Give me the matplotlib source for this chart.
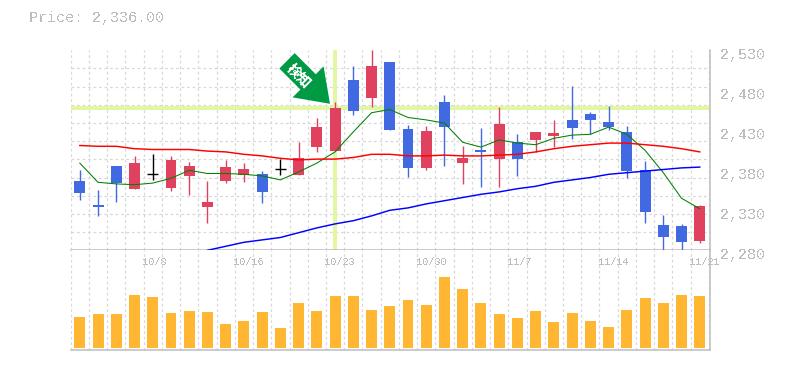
import matplotlib
matplotlib.use("Agg")
import matplotlib.pyplot as plt
import numpy as np
from matplotlib.patches import FancyArrow
from matplotlib.transforms import ScaledTranslation

W = 785
H = 370
GRAY = '#bdbdbd'
GRID = '#d8d8d8'
UP = '#e0415f'
DOWN = '#4169e1'
MARK = '#e2f6a4'

price_text = "Price: 2,336.00"

opens = [2367, 2337, 2385, 2357, 2376, 2358, 2373, 2334, 2367, 2374, 2375, 2382,
         2374, 2409, 2404, 2493, 2470, 2515, 2432, 2383, 2465, 2389, 2405, 2394,
         2415, 2418, 2423, 2443, 2450, 2440, 2428, 2380, 2312, 2310, 2292]
highs = [2380, 2355, 2385, 2398, 2400, 2398, 2390, 2367, 2393, 2389, 2379, 2394,
         2415, 2445, 2465, 2510, 2530, 2515, 2437, 2435, 2474, 2410, 2433, 2459,
         2425, 2428, 2443, 2485, 2453, 2460, 2435, 2392, 2324, 2313, 2337]
lows = [2343, 2323, 2340, 2357, 2368, 2354, 2349, 2314, 2364, 2365, 2339, 2374,
        2374, 2403, 2404, 2449, 2459, 2430, 2372, 2380, 2385, 2363, 2359, 2359,
        2373, 2403, 2409, 2419, 2425, 2430, 2371, 2314, 2280, 2280, 2289]
closes = [2352, 2334, 2364, 2389, 2376, 2393, 2385, 2340, 2384, 2382, 2353, 2382,
          2395, 2434, 2458, 2454, 2510, 2430, 2383, 2429, 2434, 2396, 2403, 2438,
          2394, 2428, 2427, 2433, 2443, 2434, 2379, 2328, 2297, 2290, 2336]
volumes = [31, 34, 34, 53, 51, 35, 37, 36, 24, 27, 36, 20, 45, 37, 52, 52, 38, 42,
           48, 43, 71, 59, 45, 34, 30, 37, 26, 35, 27, 21, 38, 50, 45, 53, 52]

ma_short = [2389, 2365, 2363, 2362, 2364, 2370, 2380, 2376, 2376, 2375, 2373, 2368,
            2378, 2389, 2403, 2428, 2452, 2456, 2446, 2443, 2439, 2415, 2409, 2418,
            2414, 2412, 2420, 2424, 2425, 2434, 2425, 2405, 2377, 2345, 2332]
ma_mid = [2411, 2410, 2410, 2407, 2406, 2406, 2406, 2404, 2403, 2400, 2398, 2395,
          2393, 2394, 2394, 2396, 2400, 2400, 2398, 2398, 2399, 2398, 2398, 2399,
          2400, 2403, 2407, 2410, 2412, 2414, 2414, 2412, 2410, 2407, 2403]
ma_long = [None, None, None, None, None, None, None, 2280, 2285, 2290, 2293, 2296,
           2302, 2308, 2313, 2317, 2323, 2330, 2333, 2338, 2342, 2346, 2350, 2353,
           2357, 2360, 2365, 2368, 2371, 2375, 2377, 2379, 2381, 2383, 2384]

date_ticks = [4, 9, 14, 19, 24, 29, 34]
date_labels = ['10/8', '10/16', '10/23', '10/30', '11/7', '11/14', '11/21']
price_ticks = [2280, 2330, 2380, 2430, 2480, 2530]
price_labels = ['2,280', '2,330', '2,380', '2,430', '2,480', '2,530']
mark_index = 14
mark_price = 2458


def px_axes(left, top, right, bottom):
    return fig.add_axes([left / W, 1 - bottom / H, (right - left) / W, (bottom - top) / H])


def shift(label, dx, dy):
    label.set_transform(label.get_transform() + ScaledTranslation(dx / 100, dy / 100, fig.dpi_scale_trans))


def style_axes(ax):
    ax.set_xlim(-0.51, 34.56)
    ax.set_xticks(np.arange(0, 36) - 0.5, minor=True)
    ax.grid(True, which='minor', axis='x', color=GRID, lw=0.9, ls=(0, (2.2, 2.2)))
    ax.set_axisbelow(True)
    ax.tick_params(which='both', length=0)
    ax.spines['top'].set_visible(False)
    ax.spines['left'].set_visible(False)
    ax.spines['bottom'].set_color(GRAY)
    ax.spines['right'].set_color(GRAY)
    ax.spines['bottom'].set_linewidth(1.1)
    ax.spines['right'].set_linewidth(1.1)


plt.rcParams['font.family'] = ['Liberation Mono', 'DejaVu Sans Mono']
plt.rcParams['text.antialiased'] = False

fig = plt.figure(figsize=(W / 100, H / 100), dpi=100)

ax = px_axes(70.5, 50.3, 710, 250.3)
vol = px_axes(70.5, 250.3, 710, 350.3)
style_axes(ax)
style_axes(vol)

# price panel
ax.set_ylim(2280, 2530)
ax.set_yticks(np.linspace(2280, 2530, 12), minor=True)
ax.grid(True, which='minor', axis='y', color=GRID, lw=0.9, ls=(0, (2.2, 2.2)))
ax.yaxis.tick_right()
ax.set_yticks(price_ticks, price_labels)
ax.tick_params(axis='y', which='major', labelsize=10.8, labelcolor=GRAY, pad=7)
for lab in ax.get_yticklabels():
    shift(lab, 0, -3)
ax.set_xticks([])

ax.axhline(mark_price, color=MARK, lw=2.9, zorder=1.5)
ax.plot([mark_index, mark_index], [2281, 2530], color=MARK, lw=2.9, zorder=1.5, solid_capstyle='butt')

xs = np.arange(len(opens))
for i in xs:
    o, h, l, c = opens[i], highs[i], lows[i], closes[i]
    if o == c:
        col = 'black'
    elif c > o:
        col = UP
    else:
        col = DOWN
    ax.plot([i, i], [l, h], color=col, lw=1.0, zorder=3, solid_capstyle='butt')
    if o == c:
        ax.plot([i - 0.3, i + 0.3], [o, o], color=col, lw=1.0, zorder=3, solid_capstyle='butt')
    else:
        ax.bar(i, abs(c - o), bottom=min(o, c), width=0.6, color=col, zorder=3)

long_y = np.array([np.nan if v is None else v for v in ma_long], dtype=float)
ax.plot(xs, ma_short, color='green', lw=0.75, zorder=4)
ax.plot(xs, ma_mid, color='red', lw=1.05, zorder=4)
ax.plot(xs, long_y, color='blue', lw=1.05, zorder=4)

# volume panel
vol.set_ylim(-2, 98)
vol.set_yticks([])
vol.set_xticks(date_ticks, date_labels, ha='left')
vol.xaxis.tick_top()
vol.tick_params(axis='x', which='major', labelsize=7.4, labelcolor=GRAY, pad=0)
for lab in vol.get_xticklabels():
    lab.set_va('center')
    shift(lab, -10.5, -12)
vol.bar(xs, volumes, width=0.6, color='#ffb733', zorder=3)

# overlay in pixels for title and the arrow
over = fig.add_axes([0, 0, 1, 1])
over.set_xlim(0, W)
over.set_ylim(H, 0)
over.axis('off')
over.patch.set_alpha(0)
over.text(29, 18, price_text, fontsize=10.8, color=GRAY, ha='left', va='center')
over.add_patch(FancyArrow(287, 60.8, 43, 43, width=21.7, head_width=43.8, head_length=31,
                          length_includes_head=True, color='#009944', lw=0))
over.text(298.5, 76, '検知', family=['Noto Sans CJK JP', 'DejaVu Sans'], fontsize=10, weight='bold',
          color='white', rotation=-45, ha='center', va='center', rotation_mode='anchor')

fig.savefig('out.png', dpi=100)
